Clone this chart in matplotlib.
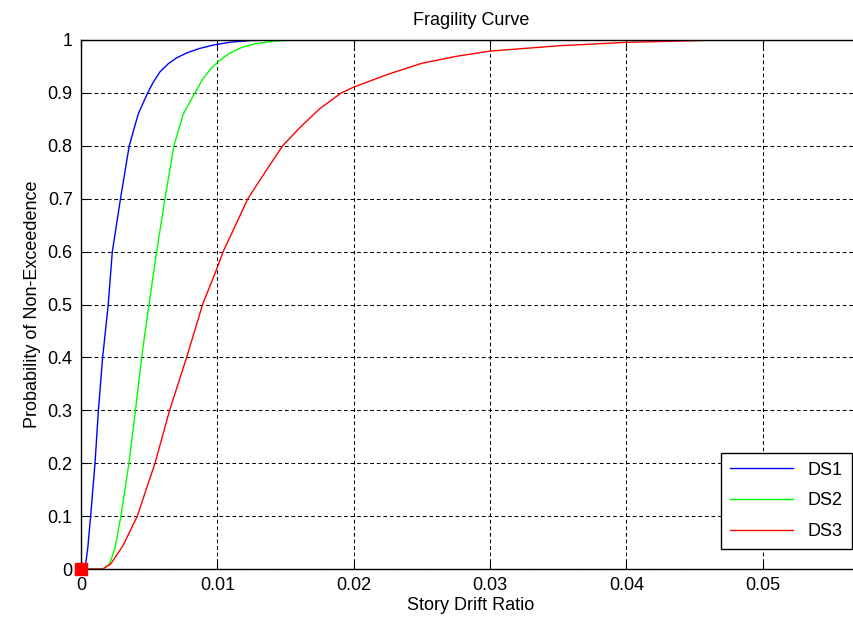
import matplotlib
matplotlib.use('Agg')
import matplotlib.pyplot as plt

plt.rcParams['font.family'] = ['Liberation Sans', 'DejaVu Sans']

# Fragility curves.
ds1_drift = [0.0, 0.0003, 0.0005, 0.00071, 0.00103, 0.00128, 0.00159, 0.0020,
             0.0023, 0.0029, 0.00354, 0.0042, 0.00489, 0.0053, 0.0058,
             0.0064, 0.0070, 0.0078, 0.0087, 0.0098, 0.0110, 0.0125, 0.0140,
             0.0172]
ds1_prob = [0.0, 0.0, 0.04, 0.10, 0.20, 0.30, 0.40, 0.50,
            0.60, 0.70, 0.80, 0.86, 0.90, 0.92, 0.94,
            0.955, 0.966, 0.976, 0.984, 0.991, 0.996, 0.999, 1.0,
            1.0]

ds2_drift = [0.0, 0.00164, 0.0021, 0.0025, 0.00293, 0.00352, 0.0040, 0.00445,
             0.00499, 0.00555, 0.00616, 0.00682, 0.0075, 0.00836, 0.0089,
             0.0095, 0.0101, 0.0109, 0.0118, 0.0128, 0.0142, 0.0160, 0.0170]
ds2_prob = [0.0, 0.0, 0.01, 0.04, 0.10, 0.20, 0.30, 0.40,
            0.50, 0.60, 0.70, 0.80, 0.86, 0.90, 0.925,
            0.945, 0.96, 0.975, 0.986, 0.993, 0.998, 1.0, 1.0]

ds3_drift = [0.0, 0.0016, 0.0022, 0.0031, 0.00413, 0.00543, 0.0065, 0.00775,
             0.00892, 0.0100, 0.01043, 0.01224, 0.0135, 0.01479, 0.0160,
             0.0175, 0.0191, 0.0200, 0.0225, 0.0250, 0.0275, 0.0300, 0.0350,
             0.0400, 0.0450, 0.0468, 0.0572]
ds3_prob = [0.0, 0.0, 0.01, 0.045, 0.10, 0.20, 0.30, 0.40,
            0.50, 0.57, 0.60, 0.70, 0.75, 0.80, 0.833,
            0.87, 0.90, 0.911, 0.935, 0.956, 0.969, 0.979, 0.989,
            0.9956, 0.9987, 1.0, 1.0]

x_ticks = [0, 0.01, 0.02, 0.03, 0.04, 0.05]
x_tick_labels = ['0', '0.01', '0.02', '0.03', '0.04', '0.05']
y_ticks = [0, 0.1, 0.2, 0.3, 0.4, 0.5, 0.6, 0.7, 0.8, 0.9, 1.0]
y_tick_labels = ['0', '0.1', '0.2', '0.3', '0.4', '0.5', '0.6', '0.7', '0.8', '0.9', '1']

fig = plt.figure(figsize=(8.54, 6.21), dpi=100)
ax = fig.add_axes([0.0948, 0.0837, 0.9133, 0.8519])

ax.plot(ds1_drift, ds1_prob, color='#0000ff', linewidth=1.0, label='DS1')
ax.plot(ds2_drift, ds2_prob, color='#00ff00', linewidth=1.0, label='DS2')
ax.plot(ds3_drift, ds3_prob, color='#ff0000', linewidth=1.0, label='DS3')
ax.plot([0], [0], marker='s', color='#ff0000', markersize=8.5,
        linestyle='none', clip_on=False, zorder=5)

ax.set_xlim(0, 0.0572)
ax.set_ylim(0, 1)
ax.set_xticks(x_ticks)
ax.set_xticklabels(x_tick_labels)
ax.set_yticks(y_ticks)
ax.set_yticklabels(y_tick_labels)

ax.tick_params(direction='in', length=5, width=0.8, labelsize=13,
               top=True, right=False, pad=6)
ax.spines['right'].set_visible(False)
for side in ['top', 'bottom', 'left']:
    ax.spines[side].set_linewidth(1.0)

ax.grid(True, color='black', linestyle=(0, (3.6, 2.7)), linewidth=0.75)
ax.set_axisbelow(True)

ax.set_title('Fragility Curve', fontsize=13, pad=11)
ax.set_xlabel('Story Drift Ratio', fontsize=13, labelpad=2)
ax.set_ylabel('Probability of Non-Exceedence', fontsize=13, labelpad=5)

leg = ax.legend(loc='lower right', bbox_to_anchor=(0.988, 0.038),
                borderaxespad=0, fontsize=13, fancybox=False,
                edgecolor='black', framealpha=1, handlelength=3.5,
                labelspacing=0.75, borderpad=0.5)
leg.get_frame().set_linewidth(1.0)

fig.savefig('out.png', dpi=100)
